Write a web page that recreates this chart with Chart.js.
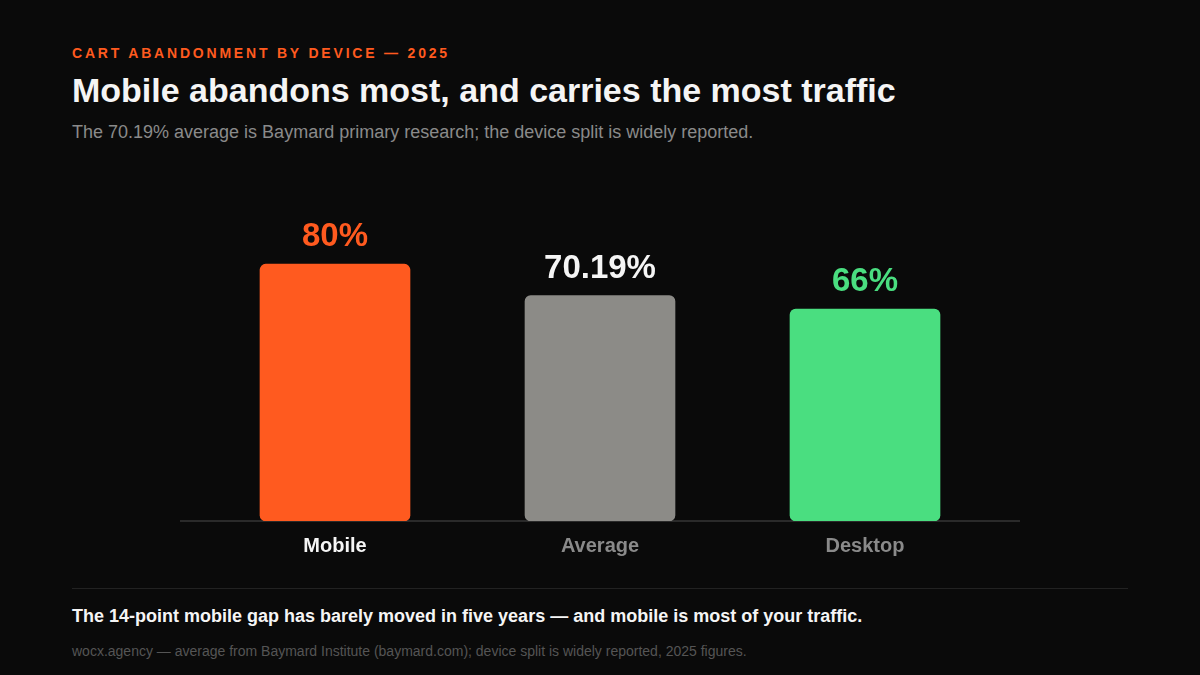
<!DOCTYPE html>
<html>
<head>
<meta charset="utf-8">
<script src="https://cdn.jsdelivr.net/npm/chart.js@4.4.0/dist/chart.umd.min.js"></script>
<style>
  html, body { margin: 0; padding: 0; background: #0a0a0a; }
  body { width: 1200px; height: 675px; position: relative; overflow: hidden;
         font-family: "Liberation Sans", Arial, sans-serif; }
  .t { position: absolute; left: 72px; white-space: nowrap; line-height: 1; }
  #eyebrow { top: 46px; font-size: 14px; font-weight: bold; color: #ff5a1f; letter-spacing: 0.2em; }
  #title { top: 73px; font-size: 34px; font-weight: bold; color: #f5f5f5; }
  #subtitle { top: 123px; font-size: 18px; color: #8a8a8a; }
  #rule { position: absolute; left: 72px; width: 1056px; top: 588px; height: 1px; background: #222; }
  #takeaway { top: 607px; font-size: 18px; font-weight: bold; color: #f5f5f5; }
  #source { top: 644px; font-size: 14px; color: #555; }
  #wrap { position: absolute; left: 180px; top: 170px; width: 840px; height: 414px; }
</style>
</head>
<body>
<div class="t" id="eyebrow">CART ABANDONMENT BY DEVICE — 2025</div>
<div class="t" id="title">Mobile abandons most, and carries the most traffic</div>
<div class="t" id="subtitle">The 70.19% average is Baymard primary research; the device split is widely reported.</div>
<div id="wrap"><canvas id="chart"></canvas></div>
<div id="rule"></div>
<div class="t" id="takeaway">The 14-point mobile gap has barely moved in five years — and mobile is most of your traffic.</div>
<div class="t" id="source">wocx.agency — average from Baymard Institute (baymard.com); device split is widely reported, 2025 figures.</div>

<script>
const devices = ["Mobile", "Average", "Desktop"];
const abandonRate = [80, 70.19, 66];
const valueLabels = ["80%", "70.19%", "66%"];
const barColors = ["#ff5a1f", "#8c8b87", "#4ade80"];
const labelColors = ["#ff5a1f", "#f5f5f5", "#4ade80"];
const tickColors = ["#f5f5f5", "#8a8a8a", "#8a8a8a"];

const FONT = '"Liberation Sans", Arial, sans-serif';

// baseline across the full canvas width
const baseline = {
  id: "baseline",
  beforeDatasetsDraw(chart) {
    const { ctx, scales } = chart;
    const y = scales.y.getPixelForValue(0);
    ctx.save();
    ctx.strokeStyle = "#2a2a2a";
    ctx.lineWidth = 2;
    ctx.beginPath();
    ctx.moveTo(0, y);
    ctx.lineTo(chart.width, y);
    ctx.stroke();
    ctx.restore();
  }
};

// value labels above bars
const valueText = {
  id: "valueText",
  afterDatasetsDraw(chart) {
    const { ctx } = chart;
    const meta = chart.getDatasetMeta(0);
    ctx.save();
    ctx.font = "bold 33px " + FONT;
    ctx.textAlign = "center";
    ctx.textBaseline = "alphabetic";
    meta.data.forEach((bar, i) => {
      ctx.fillStyle = labelColors[i];
      ctx.fillText(valueLabels[i], bar.x, bar.y - 18);
    });
    ctx.restore();
  }
};

new Chart(document.getElementById("chart"), {
  type: "bar",
  data: {
    labels: devices,
    datasets: [{
      data: abandonRate,
      backgroundColor: barColors,
      borderRadius: 6,
      borderSkipped: false,
      barThickness: 150
    }]
  },
  options: {
    responsive: true,
    maintainAspectRatio: false,
    animation: false,
    layout: { padding: { left: 22.5, right: 22.5, top: 30, bottom: 13 } },
    plugins: { legend: { display: false }, tooltip: { enabled: false } },
    scales: {
      x: {
        grid: { display: false, drawTicks: false },
        border: { display: false },
        ticks: {
          padding: 13,
          color: tickColors,
          font: { family: FONT, size: 20, weight: "bold" }
        }
      },
      y: {
        display: false,
        min: 0,
        max: 100
      }
    }
  },
  plugins: [baseline, valueText]
});
</script>
</body>
</html>
